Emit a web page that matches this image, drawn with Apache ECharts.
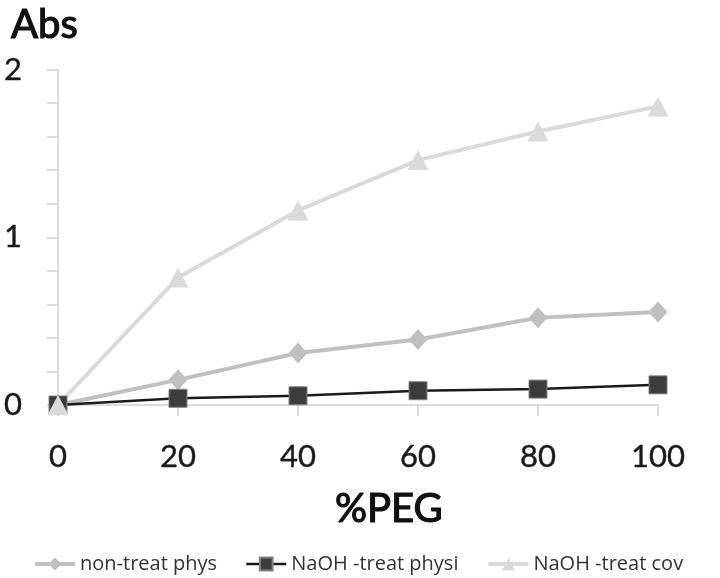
<!DOCTYPE html>
<html>
<head>
<meta charset="utf-8">
<script src="https://cdn.jsdelivr.net/npm/echarts@6/dist/echarts.min.js"></script>
<style>html,body{margin:0;padding:0;background:#fff}#c{width:720px;height:578px}</style>
</head>
<body>
<div id="c"></div>
<script>
var xValues = [0, 20, 40, 60, 80, 100];
var nonTreatPhys = [0, 0.15, 0.31, 0.39, 0.52, 0.555];
var naohTreatPhysi = [0, 0.04, 0.055, 0.085, 0.095, 0.12];
var naohTreatCov = [0, 0.76, 1.16, 1.46, 1.63, 1.78];
var seriesNames = ['non-treat phys', 'NaOH -treat physi', 'NaOH -treat cov'];

function pairs(ys) { return xValues.map(function (x, i) { return [x, ys[i]]; }); }

var font = 'Lato, "Open Sans", sans-serif';
var titleStyle = {fontFamily: font, fontSize: 40, fontWeight: 'normal', color: '#111', textBorderColor: '#111', textBorderWidth: 1.2};
var chart = echarts.init(document.getElementById('c'), null, {renderer: 'canvas'});
chart.setOption({
  animation: false,
  backgroundColor: '#ffffff',
  title: [
    {text: 'Abs', left: 6, top: 0, textStyle: titleStyle},
    {text: '%PEG', left: 330, top: 484, textStyle: titleStyle}
  ],
  legend: {
    data: seriesNames,
    left: 28, top: 549,
    itemWidth: 40, itemHeight: 16, itemGap: 28,
    lineStyle: {width: 'inherit'},
    textStyle: {fontFamily: '"Open Sans", Lato, sans-serif', fontSize: 20, color: '#333'}
  },
  grid: {left: 58, right: 62, top: 69.5, bottom: 173, containLabel: false},
  xAxis: {
    type: 'value', min: 0, max: 100, interval: 20,
    axisLine: {lineStyle: {color: '#d0d0d0', width: 1.5}},
    axisTick: {show: true, length: 11, lineStyle: {color: '#d0d0d0', width: 1.5}},
    axisLabel: {margin: 36, fontFamily: font, fontSize: 31, color: '#1a1a1a', textBorderColor: '#1a1a1a', textBorderWidth: 0.4},
    splitLine: {show: false}
  },
  yAxis: {
    type: 'value', min: 0, max: 2, interval: 0.2,
    axisLine: {show: true, lineStyle: {color: '#d0d0d0', width: 1.5}},
    axisTick: {show: true, length: 11, lineStyle: {color: '#d0d0d0', width: 1.5}},
    axisLabel: {
      margin: 36, fontFamily: font, fontSize: 31, color: '#1a1a1a', textBorderColor: '#1a1a1a', textBorderWidth: 0.4,
      formatter: function (v) { return Math.abs(v - Math.round(v)) < 1e-6 ? String(Math.round(v)) : ''; }
    },
    splitLine: {show: false}
  },
  series: [
    {
      name: seriesNames[0], type: 'line', data: pairs(nonTreatPhys),
      symbol: 'diamond', symbolSize: [19, 21],
      lineStyle: {color: '#c0c0c0', width: 4},
      itemStyle: {color: '#c0c0c0'}
    },
    {
      name: seriesNames[1], type: 'line', data: pairs(naohTreatPhysi),
      symbol: 'rect', symbolSize: 18,
      lineStyle: {color: '#1a1a1a', width: 2.5},
      itemStyle: {color: '#3c3c3c', borderColor: '#808080', borderWidth: 1}
    },
    {
      name: seriesNames[2], type: 'line', data: pairs(naohTreatCov),
      symbol: 'triangle', symbolSize: [21, 20],
      lineStyle: {color: '#dadada', width: 4},
      itemStyle: {color: '#dadada'}
    }
  ]
});
</script>
</body>
</html>
